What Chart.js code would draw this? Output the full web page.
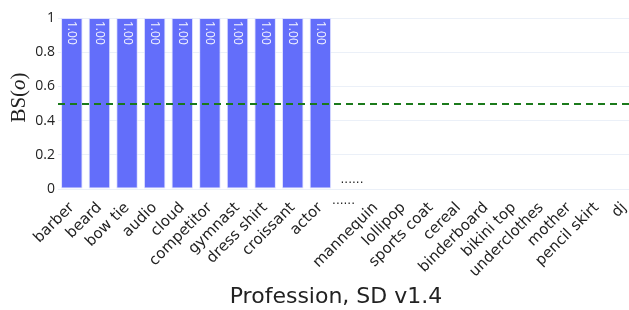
<!DOCTYPE html>
<html>
<head>
<meta charset="utf-8">
<script src="https://cdn.jsdelivr.net/npm/chart.js@4.4.0/dist/chart.umd.min.js"></script>
<style>
  html, body { margin: 0; padding: 0; background: #fff; overflow: hidden; }
  #wrap { width: 640px; height: 310px; }
</style>
</head>
<body>
<div id="wrap"><canvas id="chart" width="640" height="310"></canvas></div>
<script>
const labels = ["barber", "beard", "bow tie", "audio", "cloud", "competitor", "gymnast", "dress shirt", "croissant", "actor",
  "......", "mannequin", "lollipop", "sports coat", "cereal", "binderboard", "bikini top", "underclothes", "mother", "pencil skirt", "dj"];
const scores = [1, 1, 1, 1, 1, 1, 1, 1, 1, 1, 0, 0, 0, 0, 0, 0, 0, 0, 0, 0, 0];
const barTexts = ["1.00", "1.00", "1.00", "1.00", "1.00", "1.00", "1.00", "1.00", "1.00", "1.00",
  "......", "", "", "", "", "", "", "", "", "", ""];
const yTicks = [0, 0.2, 0.4, 0.6, 0.8, 1];
const threshold = 0.5;
const gapLabel = "......";

const sansFont = "'DejaVu Sans', Verdana, sans-serif";

// dashed threshold line, texts on bars, the horizontal "......" tick and axis titles
const overlay = {
  id: 'overlay',
  afterDatasetsDraw(chart) {
    const { ctx, chartArea, scales } = chart;
    const x = scales.x, y = scales.y;

    ctx.save();
    ctx.strokeStyle = '#1b7a1b';
    ctx.lineWidth = 2;
    ctx.setLineDash([7, 5]);
    const ty = Math.round(y.getPixelForValue(threshold));
    ctx.beginPath();
    ctx.moveTo(chartArea.left, ty);
    ctx.lineTo(chartArea.right, ty);
    ctx.stroke();
    ctx.restore();

    const meta = chart.getDatasetMeta(0);
    meta.data.forEach((bar, i) => {
      const t = barTexts[i];
      if (!t) return;
      ctx.save();
      if (scores[i] > 0) {
        ctx.fillStyle = 'rgba(255,255,255,0.92)';
        ctx.font = "12px 'Open Sans', sans-serif";
        ctx.translate(bar.x, bar.y + 3);
        ctx.rotate(Math.PI / 2);
        ctx.textAlign = 'left';
        ctx.textBaseline = 'middle';
        ctx.fillText(t, 0, 0);
      } else {
        ctx.fillStyle = '#222';
        ctx.font = "12px 'DejaVu Sans', sans-serif";
        ctx.textAlign = 'center';
        ctx.textBaseline = 'alphabetic';
        ctx.fillText(t, bar.x + 4, bar.y - 6);
      }
      ctx.restore();
    });

    // the gap label stays horizontal
    const gi = labels.indexOf(gapLabel);
    ctx.save();
    ctx.fillStyle = '#222';
    ctx.font = "12px 'DejaVu Sans', sans-serif";
    ctx.textAlign = 'right';
    ctx.textBaseline = 'alphabetic';
    ctx.fillText(gapLabel, x.getPixelForTick(gi) + 7, chartArea.bottom + 15);
    ctx.restore();

    // x title
    ctx.save();
    ctx.fillStyle = '#222';
    ctx.font = "22px " + sansFont;
    ctx.textAlign = 'center';
    ctx.textBaseline = 'alphabetic';
    ctx.fillText('Profession, SD v1.4', 336, 303);
    ctx.restore();

    // y title: BS(o) with italic o
    ctx.save();
    ctx.fillStyle = '#222';
    ctx.translate(19, (chartArea.top + chartArea.bottom) / 2 - 6);
    ctx.rotate(-Math.PI / 2);
    ctx.textBaseline = 'middle';
    ctx.textAlign = 'left';
    const up = "21px 'Liberation Serif', serif";
    const it = "italic 21px 'Liberation Serif', serif";
    const parts = [["BS(", up], ["o", it], [")", up]];
    let w = 0;
    parts.forEach(p => { ctx.font = p[1]; w += ctx.measureText(p[0]).width; });
    let px = -w / 2;
    parts.forEach(p => {
      ctx.font = p[1];
      ctx.fillText(p[0], px, 0);
      px += ctx.measureText(p[0]).width;
    });
    ctx.restore();
  }
};

new Chart(document.getElementById('chart'), {
  type: 'bar',
  data: {
    labels: labels,
    datasets: [{
      data: scores,
      backgroundColor: '#636efa',
      borderColor: 'rgba(220,222,255,0.9)',
      borderWidth: ctx => (scores[ctx.dataIndex] > 0 ? 1 : 0),
      borderSkipped: false,
      categoryPercentage: 1,
      barPercentage: 0.78
    }]
  },
  options: {
    responsive: false,
    animation: false,
    devicePixelRatio: 1,
    layout: { padding: { top: 18, right: 2, left: 0, bottom: 0 } },
    plugins: { legend: { display: false }, tooltip: { enabled: false } },
    scales: {
      x: {
        grid: { display: false },
        border: { display: false },
        ticks: {
          autoSkip: false,
          maxRotation: 45,
          minRotation: 45,
          padding: 2,
          color: '#222',
          font: { family: sansFont, size: 15 },
          callback: (v, i) => (labels[i] === gapLabel ? '' : labels[i])
        },
        afterFit: s => { s.height = 121; }
      },
      y: {
        min: 0,
        max: 1,
        afterBuildTicks: s => { s.ticks = yTicks.map(v => ({ value: v })); },
        grid: { color: '#ebf0f8', drawTicks: false },
        border: { display: false },
        ticks: {
          padding: 3,
          color: '#222',
          font: { family: "'Open Sans', sans-serif", size: 14 },
          callback: v => String(v)
        },
        afterFit: s => { s.width = 58; }
      }
    }
  },
  plugins: [overlay]
});
</script>
</body>
</html>
